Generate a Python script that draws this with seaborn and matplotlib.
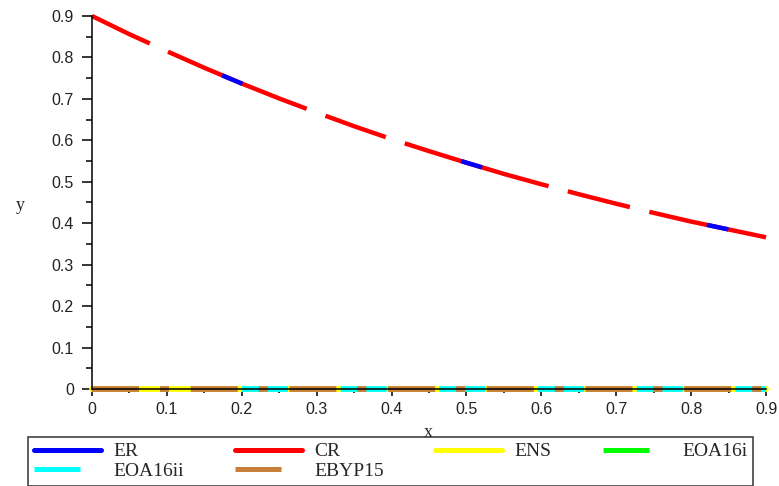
import numpy as np
import pandas as pd
import seaborn as sns
import matplotlib.pyplot as plt
from matplotlib.lines import Line2D

# valores
x_vals = [0.0, 0.05, 0.1, 0.15, 0.2, 0.25, 0.3, 0.35, 0.4, 0.45,
          0.5, 0.55, 0.6, 0.65, 0.7, 0.75, 0.8, 0.85, 0.9]
er_vals = [0.900, 0.856, 0.815, 0.775, 0.737, 0.701, 0.667, 0.634, 0.603, 0.574,
           0.546, 0.519, 0.494, 0.470, 0.447, 0.425, 0.404, 0.385, 0.366]
cr_vals = [0.900, 0.856, 0.815, 0.775, 0.737, 0.701, 0.667, 0.634, 0.603, 0.574,
           0.546, 0.519, 0.494, 0.470, 0.447, 0.425, 0.404, 0.385, 0.366]

x_cero = [0.0, 0.1, 0.2, 0.3, 0.4, 0.5, 0.6, 0.7, 0.8, 0.9]
ens_vals = [0.0, 0.0, 0.0, 0.0, 0.0, 0.0, 0.0, 0.0, 0.0, 0.0]
eoa16i_vals = [0.0, 0.0, 0.0, 0.0, 0.0, 0.0, 0.0, 0.0, 0.0, 0.0]
ebyp15_vals = [0.0, 0.0, 0.0, 0.0, 0.0, 0.0, 0.0, 0.0, 0.0, 0.0]
x_eoa16ii = [0.2, 0.3, 0.4, 0.5, 0.6, 0.7, 0.8, 0.9]
eoa16ii_vals = [0.0, 0.0, 0.0, 0.0, 0.0, 0.0, 0.0, 0.0]

nombres = ['ER', 'CR', 'ENS', 'EOA16i', 'EOA16ii', 'EBYP15']
colores = ['#0000FF', '#FF0000', '#FFFF00', '#00FF00', '#00FFFF', '#C87F37']
tick_labels = ['0', '0.1', '0.2', '0.3', '0.4', '0.5', '0.6', '0.7', '0.8', '0.9']

sns.set_theme(style='white')
plt.rcParams['lines.scale_dashes'] = False
plt.rcParams['font.family'] = ['Liberation Sans', 'DejaVu Sans']

PX = 0.72  # pixeles -> puntos
lw = 3.2
lw_base = 4.2

# patrones de trazo (en pixeles)
dash_cr = (0, tuple(v * PX for v in (64, 20, 150, 20)))
dash_er = (111 * PX, tuple(v * PX for v in (22, 232)))
dash_ebyp = (0, tuple(v * PX for v in (47, 21, 9, 21.7)))
dash_eoa = (0, tuple(v * PX for v in (46, 52.7)))

fig = plt.figure(figsize=(7.79, 4.86), dpi=100)
ax = fig.add_axes([92 / 779, 97 / 486, 674 / 779, 373 / 486])

sns.lineplot(x=x_cero, y=eoa16i_vals, color=colores[3], lw=lw_base, linestyle=dash_eoa,
             ax=ax, clip_on=False, zorder=2)
sns.lineplot(x=x_cero, y=ens_vals, color=colores[2], lw=lw_base, ax=ax, clip_on=False, zorder=2.1)
sns.lineplot(x=x_eoa16ii, y=eoa16ii_vals, color=colores[4], lw=lw_base, linestyle=dash_eoa,
             ax=ax, clip_on=False, zorder=2.2)
sns.lineplot(x=x_cero, y=ebyp15_vals, color=colores[5], lw=lw_base, linestyle=dash_ebyp,
             ax=ax, clip_on=False, zorder=2.3)
sns.lineplot(x=x_vals, y=cr_vals, color=colores[1], lw=lw, linestyle=dash_cr,
             ax=ax, clip_on=False, zorder=3)
sns.lineplot(x=x_vals, y=er_vals, color=colores[0], lw=lw, linestyle=dash_er,
             ax=ax, clip_on=False, zorder=3.1)

ax.set_xlim(0, 0.9)
ax.set_ylim(0, 0.9)
ax.set_xticks(np.arange(0, 0.91, 0.1))
ax.set_xticks(np.arange(0.05, 0.9, 0.1), minor=True)
ax.set_yticks(np.arange(0, 0.91, 0.1))
ax.set_yticks(np.arange(0.05, 0.9, 0.1), minor=True)
ax.set_xticklabels(tick_labels)
ax.set_yticklabels(tick_labels)

for lado in ['top', 'right']:
    ax.spines[lado].set_visible(False)
for lado in ['left', 'bottom']:
    ax.spines[lado].set_color('black')
    ax.spines[lado].set_linewidth(1.1)
    ax.spines[lado].set_zorder(5)

ax.tick_params(axis='both', which='both', direction='out', color='black', width=1.1,
               labelsize=11.5, labelcolor='#222222')
ax.tick_params(axis='y', which='major', length=7, pad=6)
ax.tick_params(axis='y', which='minor', length=4.5)
ax.tick_params(axis='x', which='major', length=5, pad=4)
ax.tick_params(axis='x', which='minor', length=3)
ax.tick_params(left=True, bottom=True, which='both')

ax.set_xlabel('x', family='Liberation Serif', fontsize=13)
ax.set_ylabel('y', family='Liberation Serif', fontsize=13, rotation=0)
ax.xaxis.set_label_coords((428 - 92) / 674, (389 - 432) / 373)
ax.xaxis.label.set_va('center')
ax.yaxis.set_label_coords((20 - 92) / 674, (389 - 205) / 373)
ax.yaxis.label.set_va('center')
ax.yaxis.label.set_ha('center')

# leyenda (matplotlib rellena por columnas: se reordena para leer por filas)
corto = (0, (46 * PX, 200 * PX))
estilos = ['-', '-', '-', corto, corto, corto]
handles = [Line2D([], [], color=c, lw=3.6, linestyle=s) for c, s in zip(colores, estilos)]
orden = [0, 4, 1, 5, 2, 3]
leg = fig.legend([handles[i] for i in orden], [nombres[i] for i in orden], ncol=4,
                 loc='upper left', bbox_to_anchor=(28 / 779, 0, 725 / 779, 1 - 437 / 486),
                 bbox_transform=fig.transFigure, mode='expand',
                 prop={'family': 'Liberation Serif', 'size': 14},
                 handlelength=3.45, handletextpad=0.62, borderpad=0.3,
                 labelspacing=0.1, borderaxespad=0, fancybox=False,
                 frameon=True, framealpha=1)
leg.get_frame().set_edgecolor('#333333')
leg.get_frame().set_linewidth(1.1)

fig.savefig('out.png', dpi=100)
